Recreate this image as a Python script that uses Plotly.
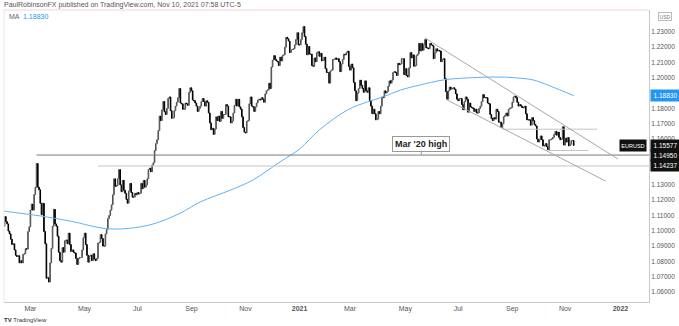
import pandas as pd
import plotly.graph_objects as go

# ---- EURUSD daily closes, one list per month (business days) ----
c20_01 = [1.1031, 1.1093]  # Jan 30-31
c20_02 = [1.1060, 1.1045, 1.0998, 1.0980, 1.0945,
          1.0910, 1.0915, 1.0875, 1.0840, 1.0832,
          1.0837, 1.0790, 1.0805, 1.0790, 1.0846,
          1.0852, 1.0883, 1.0880, 1.0995, 1.1026]
c20_03 = [1.1136, 1.1175, 1.1135, 1.1237, 1.1285,
          1.1440, 1.1285, 1.1268, 1.1180, 1.1105,
          1.1180, 1.0995, 1.0915, 1.0690, 1.0695,
          1.0665, 1.0790, 1.0885, 1.1030, 1.1140,
          1.1045, 1.1030]
c20_04 = [1.0965, 1.0860, 1.0805,
          1.0795, 1.0890, 1.0860, 1.0935, 1.0940,
          1.0915, 1.0985, 1.0910, 1.0865, 1.0875,
          1.0860, 1.0855, 1.0820, 1.0780, 1.0820,
          1.0825, 1.0825, 1.0875, 1.0955]
c20_05 = [1.0985,
          1.0910, 1.0840, 1.0795, 1.0835, 1.0840,
          1.0805, 1.0850, 1.0815, 1.0805, 1.0820,
          1.0920, 1.0925, 1.0975, 1.0950, 1.0900,
          1.0900, 1.0980, 1.1010, 1.1080, 1.1100]
c20_06 = [1.1135, 1.1170, 1.1235, 1.1340, 1.1290,
          1.1295, 1.1340, 1.1400, 1.1300, 1.1255,
          1.1330, 1.1265, 1.1245, 1.1205, 1.1180,
          1.1260, 1.1310, 1.1250, 1.1220, 1.1220,
          1.1245, 1.1235]
c20_07 = [1.1250, 1.1240, 1.1245,
          1.1310, 1.1275, 1.1330, 1.1285, 1.1300,
          1.1340, 1.1400, 1.1410, 1.1385, 1.1430,
          1.1445, 1.1525, 1.1570, 1.1595, 1.1655,
          1.1750, 1.1720, 1.1790, 1.1845, 1.1778]
c20_08 = [1.1760, 1.1800, 1.1865, 1.1875, 1.1785,
          1.1735, 1.1740, 1.1785, 1.1815, 1.1840,
          1.1870, 1.1930, 1.1835, 1.1830, 1.1795,
          1.1795, 1.1835, 1.1830, 1.1820, 1.1905,
          1.1935]
c20_09 = [1.1915, 1.1855, 1.1850, 1.1835,
          1.1815, 1.1780, 1.1800, 1.1815, 1.1845,
          1.1865, 1.1845, 1.1815, 1.1850, 1.1840,
          1.1770, 1.1705, 1.1660, 1.1670, 1.1630,
          1.1665, 1.1745, 1.1720]
c20_10 = [1.1750, 1.1715,
          1.1780, 1.1735, 1.1760, 1.1760, 1.1825,
          1.1815, 1.1745, 1.1745, 1.1705, 1.1718,
          1.1770, 1.1820, 1.1860, 1.1815, 1.1860,
          1.1810, 1.1795, 1.1745, 1.1675, 1.1645]
c20_11 = [1.1640, 1.1715, 1.1720, 1.1830, 1.1875,
          1.1815, 1.1810, 1.1780, 1.1810, 1.1835,
          1.1855, 1.1860, 1.1855, 1.1870, 1.1860,
          1.1840, 1.1895, 1.1915, 1.1920, 1.1965,
          1.1930]
c20_12 = [1.2070, 1.2115, 1.2145, 1.2120,
          1.2110, 1.2105, 1.2080, 1.2135, 1.2110,
          1.2145, 1.2150, 1.2200, 1.2265, 1.2255,
          1.2240, 1.2165, 1.2185, 1.2185, 1.2190,
          1.2215, 1.2250, 1.2295, 1.2215]
c21_01 = [1.2215,
          1.2250, 1.2295, 1.2335, 1.2270, 1.2220,
          1.2150, 1.2205, 1.2155, 1.2155, 1.2080,
          1.2075, 1.2130, 1.2105, 1.2165, 1.2170,
          1.2140, 1.2160, 1.2110, 1.2115, 1.2135]
c21_02 = [1.2060, 1.2035, 1.2035, 1.1965, 1.2045,
          1.2050, 1.2120, 1.2120, 1.2130, 1.2120,
          1.2125, 1.2105, 1.2040, 1.2090, 1.2120,
          1.2155, 1.2150, 1.2165, 1.2175, 1.2075]
c21_03 = [1.2050, 1.2090, 1.2065, 1.1970, 1.1915,
          1.1850, 1.1900, 1.1930, 1.1985, 1.1950,
          1.1930, 1.1905, 1.1980, 1.1915, 1.1905,
          1.1935, 1.1850, 1.1815, 1.1765, 1.1795,
          1.1765, 1.1725, 1.1730]
c21_04 = [1.1780, 1.1765,
          1.1815, 1.1875, 1.1870, 1.1915, 1.1900,
          1.1910, 1.1945, 1.1980, 1.1965, 1.1985,
          1.2035, 1.2040, 1.2035, 1.2015, 1.2095,
          1.2085, 1.2090, 1.2125, 1.2125, 1.2020]
c21_05 = [1.2060, 1.2015, 1.2005, 1.2065, 1.2165,
          1.2130, 1.2150, 1.2075, 1.2080, 1.2145,
          1.2155, 1.2225, 1.2175, 1.2225, 1.2180,
          1.2215, 1.2250, 1.2195, 1.2195, 1.2190,
          1.2225]
c21_06 = [1.2215, 1.2210, 1.2125, 1.2165,
          1.2190, 1.2175, 1.2180, 1.2175, 1.2105,
          1.2120, 1.2125, 1.1995, 1.1910, 1.1860,
          1.1915, 1.1940, 1.1925, 1.1930, 1.1935,
          1.1925, 1.1895, 1.1860]
c21_07 = [1.1850, 1.1865,
          1.1865, 1.1825, 1.1790, 1.1845, 1.1875,
          1.1860, 1.1775, 1.1835, 1.1810, 1.1805,
          1.1800, 1.1780, 1.1795, 1.1770, 1.1770,
          1.1800, 1.1815, 1.1845, 1.1890, 1.1870]
c21_08 = [1.1870, 1.1870, 1.1835, 1.1830, 1.1760,
          1.1735, 1.1720, 1.1740, 1.1730, 1.1795,
          1.1780, 1.1710, 1.1710, 1.1675, 1.1700,
          1.1745, 1.1755, 1.1770, 1.1750, 1.1795,
          1.1800, 1.1805]
c21_09 = [1.1840, 1.1875, 1.1880,
          1.1870, 1.1840, 1.1815, 1.1825, 1.1815,
          1.1805, 1.1805, 1.1815, 1.1765, 1.1725,
          1.1725, 1.1725, 1.1690, 1.1740, 1.1720,
          1.1695, 1.1685, 1.1600, 1.1580]
c21_10 = [1.1595,
          1.1620, 1.1595, 1.1555, 1.1555, 1.1570,
          1.1550, 1.1530, 1.1595, 1.1595, 1.1600,
          1.1610, 1.1630, 1.1650, 1.1625, 1.1645,
          1.1610, 1.1595, 1.1600, 1.1680, 1.1560]
c21_11 = [1.1605, 1.1580, 1.1610, 1.1555, 1.1565,
          1.1590, 1.1590, 1.15577]  # Nov 1-10
first_open = 1.1025

month_blocks = [
    (2020, 1, c20_01), (2020, 2, c20_02), (2020, 3, c20_03), (2020, 4, c20_04),
    (2020, 5, c20_05), (2020, 6, c20_06), (2020, 7, c20_07), (2020, 8, c20_08),
    (2020, 9, c20_09), (2020, 10, c20_10), (2020, 11, c20_11), (2020, 12, c20_12),
    (2021, 1, c21_01), (2021, 2, c21_02), (2021, 3, c21_03), (2021, 4, c21_04),
    (2021, 5, c21_05), (2021, 6, c21_06), (2021, 7, c21_07), (2021, 8, c21_08),
    (2021, 9, c21_09), (2021, 10, c21_10), (2021, 11, c21_11),
]

# ---- 200-day moving average, sampled ----
ma_dates = ["2020-01-30", "2020-03-12", "2020-04-15", "2020-06-01", "2020-07-15",
            "2020-08-19", "2020-09-10", "2020-10-15", "2020-11-10", "2020-12-10",
            "2021-01-01", "2021-01-25", "2021-02-25", "2021-03-19", "2021-04-07",
            "2021-04-27", "2021-05-19", "2021-06-15", "2021-07-12", "2021-08-18",
            "2021-09-07", "2021-09-24", "2021-10-14", "2021-11-10"]
ma_values = [1.1129, 1.1097, 1.1064, 1.1012, 1.1038,
             1.1116, 1.1188, 1.1267, 1.1332, 1.1450,
             1.1535, 1.1659, 1.1790, 1.1842, 1.1875,
             1.1920, 1.1953, 1.1986, 1.1999, 1.2005,
             1.1999, 1.1986, 1.1946, 1.18830]

# ---- levels and trend lines ----
mar20_high = 1.14950
support_lvl = 1.14237
aug_low = 1.1664
oct_low = 1.1525
upper_trend = (("2021-05-25", 1.2260), ("2021-12-30", 1.1469))
lower_trend = (("2021-06-18", 1.1855), ("2021-12-16", 1.1325))

# price scale labels (levels under the price badges stay unlabelled)
y_ticks = [1.06, 1.07, 1.08, 1.09, 1.10, 1.11, 1.12, 1.13,
           1.16, 1.17, 1.18, 1.20, 1.21, 1.22, 1.23]
# first trading day of every other month
x_ticks = ["2020-03-02", "2020-05-01", "2020-07-01", "2020-09-01", "2020-11-02",
           "2021-01-01", "2021-03-01", "2021-05-03", "2021-07-01", "2021-09-01",
           "2021-11-01", "2022-01-03"]
x_labels = ["Mar", "May", "Jul", "Sep", "Nov", "<b>2021</b>",
            "Mar", "May", "Jul", "Sep", "Nov", "<b>2022</b>"]
x_start, x_end = "2020-01-30 12:00", "2022-02-03 06:00"


def month_days(year, month):
    start = pd.Timestamp(year, month, 1)
    return pd.bdate_range(start, start + pd.offsets.MonthEnd(0))


dates, closes = [], []
for i, (yr, mo, vals) in enumerate(month_blocks):
    days = month_days(yr, mo)
    if i == 0:
        days = days[-len(vals):]
    elif i == len(month_blocks) - 1:
        days = days[:len(vals)]
    if len(days) != len(vals):
        raise ValueError(f"{yr}-{mo}: {len(vals)} values for {len(days)} days")
    dates.extend(days)
    closes.extend(vals)

opens = [first_open] + closes[:-1]
highs = [max(o, c) for o, c in zip(opens, closes)]
lows = [min(o, c) for o, c in zip(opens, closes)]

fig = go.Figure()
fig.add_trace(go.Candlestick(
    x=dates, open=opens, high=highs, low=lows, close=closes,
    increasing=dict(line=dict(color="#505050", width=1), fillcolor="#ffffff"),
    decreasing=dict(line=dict(color="#000000", width=1), fillcolor="#000000"),
    whiskerwidth=0, showlegend=False, hoverinfo="skip",
))
fig.add_trace(go.Scatter(
    x=ma_dates, y=ma_values, mode="lines",
    line=dict(color="#5cb3f7", width=1, shape="spline", smoothing=1.0),
    showlegend=False, hoverinfo="skip",
))

light_gray = "#c4c4c4"
shapes = [
    dict(type="line", xref="x", yref="y", x0="2020-03-09", x1=x_end,
         y0=mar20_high, y1=mar20_high, line=dict(color="#7a7a7a", width=1)),
    dict(type="line", xref="x", yref="y", x0="2020-05-18", x1=x_end,
         y0=support_lvl, y1=support_lvl, line=dict(color=light_gray, width=1)),
    dict(type="line", xref="x", yref="y", x0="2021-08-20", x1="2021-12-07",
         y0=aug_low, y1=aug_low, line=dict(color=light_gray, width=1)),
    dict(type="line", xref="x", yref="y", x0="2021-10-12", x1="2021-11-26",
         y0=oct_low, y1=oct_low, line=dict(color=light_gray, width=1)),
    dict(type="line", xref="x", yref="y",
         x0=upper_trend[0][0], y0=upper_trend[0][1],
         x1=upper_trend[1][0], y1=upper_trend[1][1],
         line=dict(color="#a8a8a8", width=1)),
    dict(type="line", xref="x", yref="y",
         x0=lower_trend[0][0], y0=lower_trend[0][1],
         x1=lower_trend[1][0], y1=lower_trend[1][1],
         line=dict(color="#a8a8a8", width=1)),
    # frame
    dict(type="line", xref="paper", yref="paper", x0=0, x1=1, y0=1, y1=1,
         line=dict(color="#f4d3d7", width=1)),
    dict(type="line", xref="paper", yref="paper", x0=0, x1=0, y0=0, y1=1,
         line=dict(color="#e6e6e6", width=1)),
]

base_font = "Liberation Sans, Arial, sans-serif"
annotations = [
    dict(xref="paper", yref="paper", x=0, y=1, xanchor="left", yanchor="middle",
         xshift=-2, yshift=5, showarrow=False,
         text="PaulRobinsonFX published on TradingView.com, Nov 10, 2021 07:58 UTC-5",
         font=dict(size=7, color="#555555", family=base_font)),
    dict(xref="paper", yref="paper", x=0, y=1, xanchor="left", yanchor="middle",
         xshift=3, yshift=-6, showarrow=False,
         text="MA  <span style='color:#2196f3'>1.18830</span>",
         font=dict(size=7, color="#666666", family=base_font)),
    dict(xref="x", yref="y", x="2021-05-20", y=mar20_high, ax=0, ay=-11,
         showarrow=True, arrowhead=0, arrowwidth=1, arrowcolor="#9a9a9a",
         text="<b>Mar '20 high</b>", bgcolor="#ffffff", bordercolor="#9a9a9a",
         borderwidth=1, borderpad=2,
         font=dict(size=9, color="#222222", family=base_font)),
    dict(xref="paper", yref="paper", x=0, y=0, xanchor="left", yanchor="middle",
         xshift=-2, yshift=-18, showarrow=False,
         text="<b>TV</b> TradingView",
         font=dict(size=6, color="#333333", family=base_font)),
]

# price badges on the right scale
badges = [
    (ma_values[-1], "#2196f3", f"{ma_values[-1]:.5f}"),
    (closes[-1], "#111111", f"{closes[-1]:.5f}"),
    (mar20_high, "#111111", f"{mar20_high:.5f}"),
    (support_lvl, "#111111", f"{support_lvl:.5f}"),
]
for val, col, txt in badges:
    annotations.append(dict(
        xref="paper", yref="y", x=1, y=val, xanchor="left", yanchor="middle",
        xshift=1, showarrow=False, text=txt, bgcolor=col, width=27, height=9,
        font=dict(size=6.5, color="#ffffff", family=base_font)))
annotations.append(dict(
    xref="paper", yref="y", x=1, y=closes[-1], xanchor="right", yanchor="middle",
    xshift=-2, showarrow=False, text="EURUSD", bgcolor="#111111", width=24, height=9,
    font=dict(size=5.5, color="#ffffff", family=base_font)))
annotations.append(dict(
    xref="paper", yref="y", x=1, y=1.24, xanchor="left", yanchor="middle",
    xshift=9, showarrow=False, text="USD", bgcolor="#ffffff", bordercolor="#bbbbbb",
    borderwidth=1, borderpad=0, width=12, height=7,
    font=dict(size=5, color="#777777", family=base_font)))

fig.update_layout(
    width=679, height=326,
    margin=dict(l=4, r=30, t=10, b=24),
    paper_bgcolor="#ffffff", plot_bgcolor="#ffffff",
    shapes=shapes, annotations=annotations,
    xaxis=dict(
        type="date", range=[x_start, x_end],
        rangebreaks=[dict(bounds=["sat", "mon"])],
        rangeslider=dict(visible=False),
        tickvals=x_ticks, ticktext=x_labels, ticks="",
        tickfont=dict(size=7, color="#555555", family=base_font),
        showgrid=False, zeroline=False,
        showline=True, linecolor="#c8c8c8", linewidth=1,
    ),
    yaxis=dict(
        side="right", range=[1.05346, 1.24431],
        tickvals=y_ticks, tickformat=".5f", ticks="",
        tickfont=dict(size=6.5, color="#555555", family=base_font),
        showgrid=False, zeroline=False,
        showline=True, linecolor="#c8c8c8", linewidth=1,
    ),
)

fig.write_html("out.html")
